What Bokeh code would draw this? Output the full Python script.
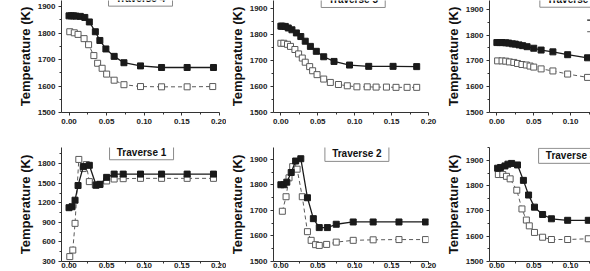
from bokeh.plotting import figure
from bokeh.layouts import row, column
from bokeh.models import FixedTicker, Range1d, PrintfTickFormatter
from bokeh.core.properties import value
from bokeh.embed import file_html
from bokeh.resources import INLINE

FONT = "Liberation Sans"

# ---- Traverse 4 ----
t4_pos_fill = [0.000, 0.003, 0.006, 0.009, 0.015, 0.021, 0.027, 0.035, 0.041, 0.049, 0.060, 0.073, 0.095, 0.123, 0.157, 0.192]
t4_temp_fill = [1865, 1865, 1865, 1864, 1863, 1859, 1842, 1805, 1772, 1740, 1712, 1688, 1676, 1670, 1670, 1670]
t4_pos_open = [0.001, 0.007, 0.012, 0.020, 0.026, 0.033, 0.038, 0.044, 0.050, 0.060, 0.073, 0.095, 0.123, 0.157, 0.191]
t4_temp_open = [1805, 1801, 1795, 1779, 1756, 1715, 1686, 1667, 1645, 1622, 1605, 1598, 1597, 1597, 1598]

# ---- Traverse 5 ----
t5_pos_fill = [0.000, 0.002, 0.006, 0.010, 0.015, 0.021, 0.027, 0.033, 0.040, 0.048, 0.058, 0.072, 0.093, 0.119, 0.152, 0.184]
t5_temp_fill = [1833, 1833, 1832, 1826, 1819, 1807, 1793, 1775, 1755, 1736, 1715, 1697, 1683, 1678, 1678, 1677]
t5_pos_open = [0.000, 0.004, 0.009, 0.013, 0.019, 0.024, 0.029, 0.033, 0.039, 0.043, 0.049, 0.058, 0.067, 0.078, 0.090,
               0.103, 0.117, 0.129, 0.143, 0.156, 0.171, 0.184]
t5_temp_open = [1767, 1767, 1763, 1755, 1743, 1726, 1710, 1694, 1677, 1661, 1646, 1629, 1616, 1608, 1603,
                1599, 1599, 1598, 1598, 1597, 1597, 1597]

# ---- Traverse 6 ----
t6_pos_fill = [0.000, 0.004, 0.007, 0.012, 0.016, 0.021, 0.025, 0.030, 0.035, 0.041, 0.050, 0.060, 0.076, 0.096, 0.123, 0.155]
t6_temp_fill = [1771, 1771, 1771, 1770, 1769, 1766, 1765, 1762, 1759, 1755, 1749, 1742, 1735, 1724, 1712, 1700]
t6_pos_open = [0.001, 0.007, 0.012, 0.017, 0.023, 0.028, 0.034, 0.040, 0.045, 0.050, 0.060, 0.076, 0.096, 0.123, 0.155]
t6_temp_open = [1700, 1700, 1699, 1696, 1694, 1690, 1686, 1684, 1680, 1676, 1669, 1661, 1649, 1636, 1622]

# ---- Traverse 1 ----
t1_pos_fill = [0.000, 0.004, 0.008, 0.012, 0.019, 0.027, 0.036, 0.041, 0.050, 0.060, 0.072, 0.095, 0.123, 0.157, 0.192]
t1_temp_fill = [1125, 1140, 1240, 1465, 1755, 1775, 1470, 1480, 1590, 1640, 1640, 1640, 1640, 1640, 1640]
t1_pos_open = [0.001, 0.005, 0.008, 0.013, 0.019, 0.023, 0.027, 0.035, 0.041, 0.050, 0.060, 0.072, 0.095, 0.123, 0.157, 0.192]
t1_temp_open = [375, 475, 885, 1865, 1725, 1785, 1525, 1475, 1485, 1535, 1565, 1570, 1575, 1575, 1575, 1575]

# ---- Traverse 2 ----
t2_pos_fill = [0.000, 0.004, 0.008, 0.014, 0.020, 0.027, 0.036, 0.044, 0.052, 0.063, 0.075, 0.098, 0.125, 0.160, 0.196]
t2_temp_fill = [1801, 1801, 1811, 1849, 1894, 1903, 1750, 1668, 1633, 1633, 1646, 1655, 1655, 1655, 1655]
t2_pos_open = [0.002, 0.007, 0.011, 0.016, 0.022, 0.029, 0.036, 0.041, 0.047, 0.052, 0.062, 0.075, 0.098, 0.125, 0.160, 0.196]
t2_temp_open = [1697, 1754, 1828, 1872, 1862, 1754, 1617, 1583, 1566, 1563, 1567, 1576, 1583, 1585, 1586, 1586]

# ---- Traverse 3 ----
t3_pos_fill = [0.001, 0.005, 0.011, 0.015, 0.020, 0.028, 0.036, 0.043, 0.051, 0.062, 0.074, 0.096, 0.124, 0.157]
t3_temp_fill = [1869, 1872, 1878, 1885, 1888, 1882, 1821, 1763, 1715, 1686, 1669, 1663, 1663, 1663]
t3_pos_open = [0.002, 0.008, 0.013, 0.018, 0.027, 0.034, 0.040, 0.044, 0.051, 0.062, 0.074, 0.096, 0.124, 0.157]
t3_temp_open = [1844, 1844, 1837, 1827, 1782, 1708, 1664, 1641, 1615, 1596, 1587, 1587, 1590, 1590]

x_ticks = [0.00, 0.05, 0.10, 0.15, 0.20]
y_ticks_narrow = [1500, 1600, 1700, 1800, 1900]
y_ticks_wide = [300, 600, 900, 1200, 1500, 1800]

INK = "#1a1a1a"
GREY = "#5a5a5a"


def panel(width, height, b_left, b_right, b_top, b_bottom, x_end, y_start, y_end, y_ticks,
          pf, tf, po, to, title, title_x, title_y, bottom_row=False):
    p = figure(width=width, height=height, output_backend="svg", toolbar_location=None,
               x_range=Range1d(-0.01, x_end), y_range=Range1d(y_start, y_end),
               min_border_left=b_left, min_border_right=b_right,
               min_border_top=b_top, min_border_bottom=b_bottom)
    p.outline_line_color = None
    p.grid.visible = False
    p.background_fill_color = "white"
    p.border_fill_color = "white"

    # open-symbol series: dashed grey line
    p.line(po, to, line_color=GREY, line_width=1, line_dash="4 3")
    p.scatter(po, to, marker="square", size=6, fill_color="white", line_color=GREY, line_width=1)
    # filled-symbol series: solid black line
    p.line(pf, tf, line_color=INK, line_width=1.3)
    p.scatter(pf, tf, marker="square", size=6, fill_color=INK, line_color=INK)

    # boxed traverse label inside the plot frame
    p.rect(x=[title_x], y=[title_y], width=64, height=15, width_units="screen", height_units="screen",
           fill_color="white", line_color="#8a8a8a", line_width=1)
    p.text(x=[title_x], y=[title_y], text=[title], text_align="center", text_baseline="middle",
           text_font=value(FONT), text_font_style="bold", text_font_size="10px", text_color="#111111")

    p.xaxis.ticker = FixedTicker(ticks=x_ticks, minor_ticks=[0.025, 0.075, 0.125, 0.175])
    p.xaxis.formatter = PrintfTickFormatter(format="%.2f")
    p.yaxis.ticker = FixedTicker(ticks=y_ticks,
                                 minor_ticks=[t + (y_ticks[1] - y_ticks[0]) / 2 for t in y_ticks])
    p.yaxis.axis_label = "Temperature (K)"

    for ax in (p.xaxis[0], p.yaxis[0]):
        ax.axis_line_color = "#333333"
        ax.major_tick_line_color = "#333333"
        ax.minor_tick_line_color = "#333333"
        ax.major_tick_in = 0
        ax.major_tick_out = 3
        ax.minor_tick_in = 0
        ax.minor_tick_out = 2
        ax.major_label_text_font = FONT
        ax.major_label_text_font_style = "bold"
        ax.major_label_text_font_size = "8px"
        ax.major_label_text_color = "#222222"
    p.yaxis.major_label_standoff = 3
    p.yaxis.axis_label_text_font = FONT
    p.yaxis.axis_label_text_font_style = "bold"
    p.yaxis.axis_label_text_font_size = "13px"
    p.yaxis.axis_label_text_color = "#111111"
    p.yaxis.axis_label_standoff = 2
    p.xaxis.major_label_standoff = -2 if bottom_row else 3
    return p


# top row: frames start at the window edge
p4 = panel(226, 135, 61, 7, 0, 23, 0.20, 1500, 1923, y_ticks_narrow,
           t4_pos_fill, t4_temp_fill, t4_pos_open, t4_temp_open, "Traverse 4", 0.095, 1930)
p5 = panel(216, 135, 44, 14, 0, 23, 0.20, 1500, 1932, y_ticks_narrow,
           t5_pos_fill, t5_temp_fill, t5_pos_open, t5_temp_open, "Traverse 5", 0.098, 1934)
p6 = panel(148, 135, 45, 0, 0, 20, 0.127, 1500, 1934, y_ticks_narrow,
           t6_pos_fill, t6_temp_fill, t6_pos_open, t6_temp_open, "Traverse 6", 0.1017, 1937)
# legend samples at the right edge of the last panel
p6.line([0.1225, 0.16], [1858, 1858], line_color=INK, line_width=1.3)
p6.line([0.1225, 0.16], [1813, 1813], line_color=GREY, line_width=1, line_dash="4 3")

# bottom row
p1 = panel(226, 136, 61, 7, 12, 10, 0.20, 300, 2048, y_ticks_wide,
           t1_pos_fill, t1_temp_fill, t1_pos_open, t1_temp_open, "Traverse 1", 0.0964, 1975, True)
p2 = panel(216, 136, 44, 14, 12, 10, 0.20, 1500, 1947, y_ticks_narrow,
           t2_pos_fill, t2_temp_fill, t2_pos_open, t2_temp_open, "Traverse 2", 0.103, 1922, True)
p3 = panel(148, 136, 45, 0, 12, 10, 0.127, 1500, 1951, y_ticks_narrow,
           t3_pos_fill, t3_temp_fill, t3_pos_open, t3_temp_open, "Traverse 3", 0.100, 1918, True)

layout = column(row(p4, p5, p6), row(p1, p2, p3))
open("out.html", "w").write(file_html(layout, INLINE))
